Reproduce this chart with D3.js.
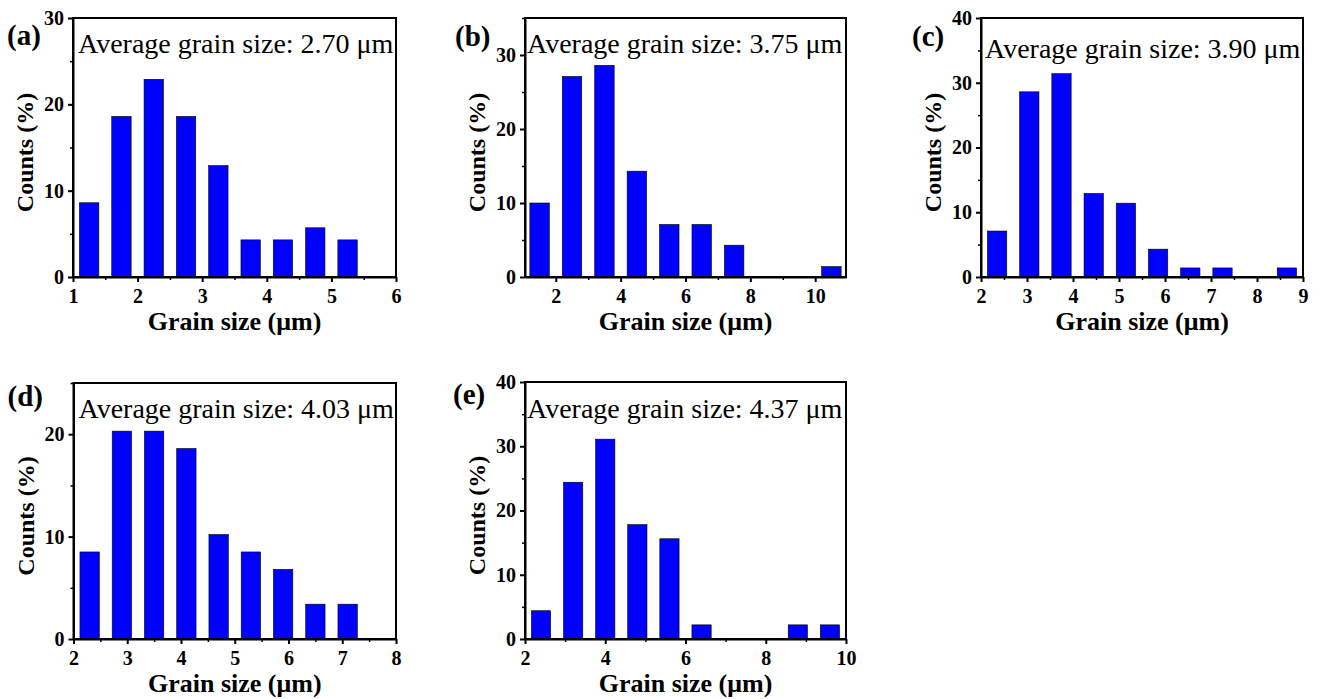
<!DOCTYPE html>
<html>
<head>
<meta charset="utf-8">
<script src="https://cdn.jsdelivr.net/npm/d3@7"></script>
<style>
  body { margin: 0; background: #fff; }
  svg { display: block; }
</style>
</head>
<body>
<div id="chart"></div>
<script>
// Data (bin centre in µm, counts in %)

const binsA = [1.25, 1.75, 2.25, 2.75, 3.25, 3.75, 4.25, 4.75, 5.25];
const countsA = [8.6, 18.6, 22.9, 18.6, 12.9, 4.3, 4.3, 5.7, 4.3];

const binsB = [1.5, 2.5, 3.5, 4.5, 5.5, 6.5, 7.5, 8.5, 9.5, 10.5];
const countsB = [10.0, 27.1, 28.6, 14.3, 7.1, 7.1, 4.3, 0, 0, 1.4];

const binsC = [2.35, 3.05, 3.75, 4.45, 5.15, 5.85, 6.55, 7.25, 7.95, 8.65];
const countsC = [7.1, 28.6, 31.4, 12.9, 11.4, 4.3, 1.4, 1.4, 0, 1.4];

const binsD = [2.3, 2.9, 3.5, 4.1, 4.7, 5.3, 5.9, 6.5, 7.1];
const countsD = [8.5, 20.3, 20.3, 18.6, 10.2, 8.5, 6.8, 3.4, 3.4];

const binsE = [2.4, 3.2, 4.0, 4.8, 5.6, 6.4, 7.2, 8.0, 8.8, 9.6];
const countsE = [4.4, 24.4, 31.1, 17.8, 15.6, 2.2, 0, 0, 2.2, 2.2];

// Tick labels per panel
const xTicksA = [1, 2, 3, 4, 5, 6];
const xTicksB = [2, 4, 6, 8, 10];
const xTicksC = [2, 3, 4, 5, 6, 7, 8, 9];
const xTicksD = [2, 3, 4, 5, 6, 7, 8];
const xTicksE = [2, 4, 6, 8, 10];

const yTicksA = [0, 10, 20, 30];
const yTicksB = [0, 10, 20, 30];
const yTicksC = [0, 10, 20, 30, 40];
const yTicksD = [0, 10, 20];
const yTicksE = [0, 10, 20, 30, 40];

// Axis ranges
const xDomainA = [1, 6];
const xDomainB = [1.05, 10.95];
const xDomainC = [2, 9];
const xDomainD = [2, 8];
const xDomainE = [2, 10];

const yDomainA = [0, 30];
const yDomainB = [0, 35];
const yDomainC = [0, 40];
const yDomainD = [0, 25];
const yDomainE = [0, 40];

const panelLabels = ["(a)", "(b)", "(c)", "(d)", "(e)"];
const averages = ["2.70", "3.75", "3.90", "4.03", "4.37"];

// Panel layout (pixel positions of each plot frame)
const layout = [
  { left: 73,  top: 18,  w: 323, h: 259, labelDx: -66, labelY: 45,  avgDx: 5, avgDy: 35 },
  { left: 525, top: 18,  w: 321, h: 259, labelDx: -70, labelY: 46,  avgDx: 2, avgDy: 35 },
  { left: 981, top: 18,  w: 322, h: 259, labelDx: -69, labelY: 46,  avgDx: 4, avgDy: 40 },
  { left: 73.5, top: 383, w: 322.5, h: 256, labelDx: -66, labelY: 406, avgDx: 5, avgDy: 35 },
  { left: 525, top: 382, w: 321, h: 257, labelDx: -72, labelY: 404, avgDx: 2, avgDy: 36 }
];

const panels = [
  { bins: binsA, counts: countsA, xTicks: xTicksA, yTicks: yTicksA, xDomain: xDomainA, yDomain: yDomainA },
  { bins: binsB, counts: countsB, xTicks: xTicksB, yTicks: yTicksB, xDomain: xDomainB, yDomain: yDomainB },
  { bins: binsC, counts: countsC, xTicks: xTicksC, yTicks: yTicksC, xDomain: xDomainC, yDomain: yDomainC },
  { bins: binsD, counts: countsD, xTicks: xTicksD, yTicks: yTicksD, xDomain: xDomainD, yDomain: yDomainD },
  { bins: binsE, counts: countsE, xTicks: xTicksE, yTicks: yTicksE, xDomain: xDomainE, yDomain: yDomainE }
];

const serif = "'Liberation Serif', 'Times New Roman', serif";

const svg = d3.select("#chart")
  .append("svg")
    .attr("width", 1320)
    .attr("height", 699);

// minor ticks sit halfway between majors (and one step past the last one if it fits)
function minorTicks(major, domain) {
  const out = [];
  const step = major[1] - major[0];
  for (let i = 0; i < major.length; i++) {
    const m = major[i] + step / 2;
    if (m <= domain[1] + 1e-9) out.push(m);
  }
  const first = major[0] - step / 2;
  if (first >= domain[0] - 1e-9) out.unshift(first);
  return out;
}

panels.forEach((p, i) => {
  const L = layout[i];
  const g = svg.append("g")
    .attr("transform", `translate(${L.left},${L.top})`);

  const x = d3.scaleLinear().domain(p.xDomain).range([0, L.w]);
  const y = d3.scaleLinear().domain(p.yDomain).range([L.h, 0]);

  const binWidth = p.bins[1] - p.bins[0];
  const barW = x(p.bins[0] + binWidth * 0.3) - x(p.bins[0] - binWidth * 0.3);

  // Bars
  g.append("g")
    .selectAll("rect")
    .data(p.bins.map((b, j) => ({ bin: b, count: p.counts[j] })).filter(d => d.count > 0))
    .join("rect")
      .attr("x", d => x(d.bin) - barW / 2)
      .attr("y", d => y(d.count))
      .attr("width", barW)
      .attr("height", d => L.h - y(d.count))
      .attr("fill", "#0000ff")
      .attr("stroke", "#000")
      .attr("stroke-width", 0.6);

  // Frame
  g.append("rect")
    .attr("width", L.w)
    .attr("height", L.h)
    .attr("fill", "none")
    .attr("stroke", "#000")
    .attr("stroke-width", 2);

  // Minor ticks
  g.append("g")
    .attr("transform", `translate(0,${L.h})`)
    .call(d3.axisBottom(x).tickValues(minorTicks(p.xTicks, p.xDomain)).tickSize(3).tickSizeOuter(0).tickFormat(""))
    .call(a => a.select(".domain").remove())
    .selectAll("line").attr("stroke-width", 1.5);

  g.append("g")
    .call(d3.axisLeft(y).tickValues(minorTicks(p.yTicks, p.yDomain)).tickSize(3).tickSizeOuter(0).tickFormat(""))
    .call(a => a.select(".domain").remove())
    .selectAll("line").attr("stroke-width", 1.5);

  // Major axes
  const xAxis = g.append("g")
    .attr("transform", `translate(0,${L.h})`)
    .call(d3.axisBottom(x).tickValues(p.xTicks).tickSize(5).tickSizeOuter(0).tickPadding(6.5).tickFormat(d3.format("d")));

  const yAxis = g.append("g")
    .call(d3.axisLeft(y).tickValues(p.yTicks).tickSize(5).tickSizeOuter(0).tickPadding(4).tickFormat(d3.format("d")));

  [xAxis, yAxis].forEach(a => {
    a.select(".domain").attr("stroke-width", 2);
    a.selectAll("line").attr("stroke-width", 2);
    a.selectAll("text")
      .style("font-family", serif)
      .style("font-weight", "bold")
      .style("font-size", "20px")
      .attr("fill", "#000");
  });

  // Axis titles
  g.append("text")
    .attr("x", L.w / 2)
    .attr("y", L.h + 53)
    .attr("text-anchor", "middle")
    .style("font-family", serif)
    .style("font-weight", "bold")
    .style("font-size", "26px")
    .text("Grain size (μm)");

  g.append("text")
    .attr("transform", `translate(-40,${L.h / 2 + 5}) rotate(-90)`)
    .attr("text-anchor", "middle")
    .style("font-family", serif)
    .style("font-weight", "bold")
    .style("font-size", "24px")
    .text("Counts (%)");

  // Average grain size note
  g.append("text")
    .attr("x", L.avgDx)
    .attr("y", L.avgDy)
    .style("font-family", serif)
    .style("font-size", "28px")
    .text(`Average grain size: ${averages[i]} μm`);

  // Panel letter
  svg.append("text")
    .attr("x", L.left + L.labelDx)
    .attr("y", L.labelY)
    .style("font-family", serif)
    .style("font-weight", "bold")
    .style("font-size", "29px")
    .text(panelLabels[i]);
});
</script>
</body>
</html>
